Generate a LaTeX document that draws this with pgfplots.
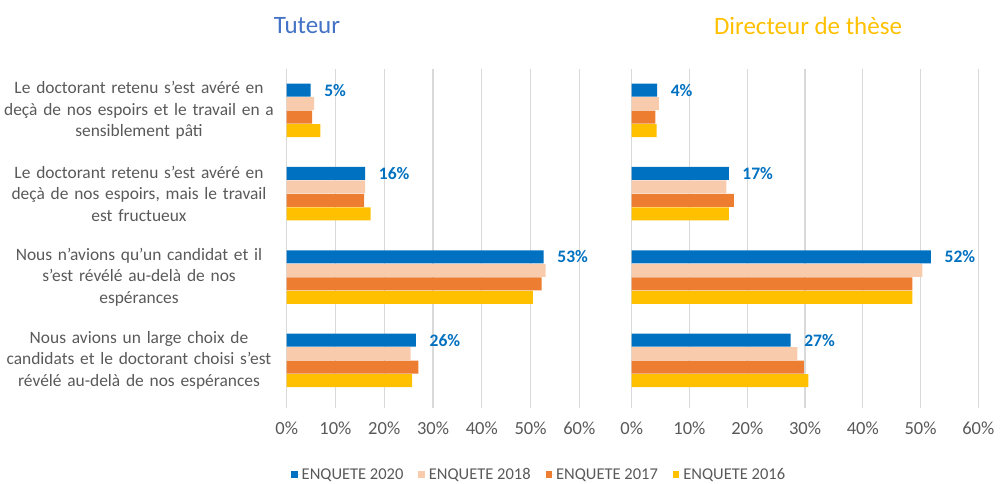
\documentclass[border=0pt]{standalone}
\usepackage{pgfplots}
\pgfplotsset{compat=1.18}
\usepackage{fontspec}
\setmainfont{Carlito}
\definecolor{c20}{HTML}{0070C0}
\definecolor{c18}{HTML}{F8CBAD}
\definecolor{c17}{HTML}{ED7D31}
\definecolor{c16}{HTML}{FFC000}
\definecolor{gridc}{HTML}{D9D9D9}
\definecolor{txt}{HTML}{595959}
\definecolor{tut}{HTML}{4472C4}
\pgfplotsset{
 mybase/.style={
  xbar, scale only axis, height=333.3pt,
  xmin=0, xmax=60, ymin=-0.5, ymax=3.5, enlargelimits=false,
  xtick={0,10,...,60}, ytick={0,1,2,3},
  xticklabel={\pgfmathprintnumber{\tick}\%},
  /pgf/number format/assume math mode=true,
  axis lines*=left, axis line style={draw=none},
  xmajorgrids, grid style={gridc, line width=1.3pt},
  tick align=outside, major tick length=6pt,
  xtick style={gridc, line width=1.3pt},
  ytick style={draw=none},
  xticklabel style={font=\fontsize{18.5}{20}\selectfont, text=txt, yshift=-10pt},
  bar width=13pt,
  clip=false,
 },
 b20/.style={fill=c20, draw=none, bar shift=20.25pt,
   point meta=explicit symbolic,
   nodes near coords={\pgfplotspointmeta\%},
   nodes near coords style={anchor=west, inner sep=0pt, xshift=13.5pt,
     font=\bfseries\fontsize{17.5}{20}\selectfont, text=c20}},
 b18/.style={fill=c18, draw=none, bar shift=6.75pt},
 b17/.style={fill=c17, draw=none, bar shift=-6.75pt},
 b16/.style={fill=c16, draw=none, bar shift=-20.25pt},
}
\begin{document}
\begin{tikzpicture}
\path[use as bounding box] (0pt,0pt) rectangle (1001pt,483pt);
\node[text=tut, font=\fontsize{25}{28}\selectfont] at (307pt,457pt) {Tuteur};
\node[text=c16, font=\fontsize{25}{28}\selectfont] at (808pt,457pt) {Directeur de thèse};
\begin{axis}[mybase, width=292.6pt, at={(286.7pt,81pt)}, anchor=south west,
  yticklabels={{Nous avions un large choix de\\candidats et le doctorant choisi s’est\\révélé au-delà de nos espérances},
    {Nous n’avions qu’un candidat et il\\s’est révélé au-delà de nos\\espérances},
    {Le doctorant retenu s’est avéré en\\deçà de nos espoirs, mais le travail\\est fructueux},
    {Le doctorant retenu s’est avéré en\\deçà de nos espoirs et le travail en a\\sensiblement pâti}},
  yticklabel style={text width=280pt, align=center, font=\fontsize{17.4}{21.6}\selectfont, text=txt, inner sep=0pt, xshift=-1.5pt},
  legend style={at={(0.0147,-0.218)}, anchor=west, draw=none, fill=none, inner sep=0pt,
    font=\fontsize{16.5}{18}\selectfont, text=txt, legend columns=4,
    /tikz/every even column/.append style={column sep=13pt}},
  legend cell align=left,
  legend image code/.code={\fill[#1] (0pt,-3.3pt) rectangle (6.6pt,3.3pt); \path (0pt,0pt) -- (8.5pt,0pt);},
]
\addplot[b20] coordinates {(26.5,0) [26] (52.7,1) [53] (16.1,2) [16] (4.9,3) [5]};
\addplot[b18] coordinates {(25.4,0) (53.1,1) (16.1,2) (5.6,3)};
\addplot[b17] coordinates {(27.0,0) (52.3,1) (15.9,2) (5.2,3)};
\addplot[b16] coordinates {(25.7,0) (50.5,1) (17.2,2) (6.9,3)};
\legend{ENQUETE 2020, ENQUETE 2018, ENQUETE 2017, ENQUETE 2016}
\end{axis}
\begin{axis}[mybase, width=346.6pt, at={(631.7pt,81pt)}, anchor=south west,
  yticklabels={}]
\addplot[b20] coordinates {(27.5,0) [27] (51.8,1) [52] (16.8,2) [17] (4.4,3) [4]};
\addplot[b18] coordinates {(28.7,0) (50.3,1) (16.4,2) (4.7,3)};
\addplot[b17] coordinates {(29.8,0) (48.6,1) (17.7,2) (4.1,3)};
\addplot[b16] coordinates {(30.6,0) (48.6,1) (16.8,2) (4.3,3)};
\end{axis}
\end{tikzpicture}
\end{document}
